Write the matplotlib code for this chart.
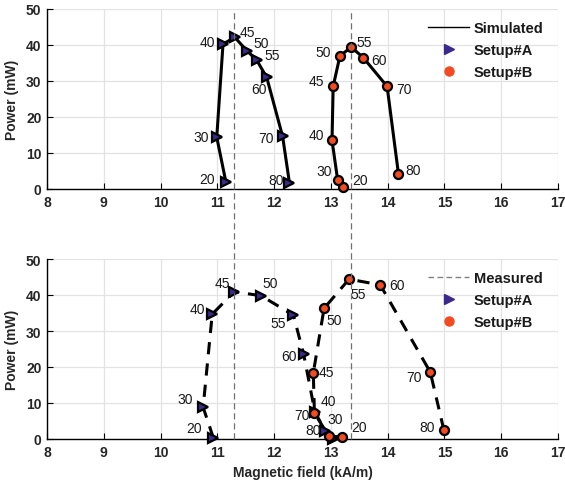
import matplotlib
matplotlib.use("Agg")
import matplotlib.pyplot as plt
from matplotlib.lines import Line2D
from matplotlib.transforms import blended_transform_factory

plt.rcParams['font.family'] = ['Liberation Sans', 'DejaVu Sans']

# ---- Simulated (top panel) ----
sim_a_current = ['20', '30', '40', '45', '50', '55', '60', '70', '80']
sim_a_field = [11.15, 10.99, 11.10, 11.31, 11.52, 11.69, 11.87, 12.15, 12.27]
sim_a_power = [2.0, 14.4, 40.3, 42.1, 38.4, 35.9, 31.0, 14.6, 1.7]

sim_b_current = ['20', '30', '40', '45', '50', '55', '60', '70', '80']
sim_b_field = [13.22, 13.12, 13.02, 13.04, 13.16, 13.36, 13.57, 13.99, 14.19]
sim_b_power = [0.5, 2.4, 13.5, 28.5, 37.0, 39.4, 36.5, 28.5, 4.2]

# ---- Measured (bottom panel) ----
meas_a_current = ['20', '30', '40', '45', '50', '55', '60', '70', '80', '']
meas_a_field = [10.93, 10.75, 10.91, 11.30, 11.77, 12.34, 12.52, 12.72, 12.90, 13.03]
meas_a_power = [0.3, 8.8, 34.7, 40.9, 39.8, 34.4, 23.6, 7.4, 2.3, 0.0]

meas_b_current = ['20', '30', '40', '45', '50', '55', '60', '70', '80']
meas_b_field = [13.19, 12.96, 12.71, 12.69, 12.88, 13.32, 13.87, 14.75, 14.99]
meas_b_power = [0.5, 0.9, 7.2, 18.3, 36.3, 44.4, 42.8, 18.6, 2.5]

# peak positions of the simulated curves
peak_fields = [11.30, 13.35]

# label offsets (pixels) for each point label
off_sim_a = [(-19, 3), (-16, 0), (-16, 2), (12, 5), (14, 8), (16, 5), (-8, -12), (-17, -2), (-13, 3)]
off_sim_b = [(17, 7), (-14, 9), (-16, 5), (-17, 5), (-17, 4), (13, 5), (16, -2), (17, -3), (15, 4)]
off_meas_a = [(-19, 10), (-18, 8), (-15, 5), (-12, 9), (9, 13), (-15, -8), (-15, -2), (-13, -3), (-12, 1), (0, 0)]
off_meas_b = [(17, 10), (7, 17), (14, 12), (13, 1), (10, -12), (9, -15), (17, 0), (-16, -5), (-17, 3)]

COL_A = '#3b2a8c'
COL_B = '#f24b22'
GRID = '#e3e3e3'

fig = plt.figure(figsize=(5.65, 4.85), dpi=100)
ax1 = fig.add_axes([47 / 565, 1 - 190 / 485, 511 / 565, 180 / 485])
ax2 = fig.add_axes([47 / 565, 1 - 440 / 485, 511 / 565, 180 / 485])


def style_axes(ax):
    ax.set_xlim(8, 17)
    ax.set_ylim(0, 50)
    ax.set_xticks(range(8, 18))
    ax.set_yticks(range(0, 51, 10))
    ax.grid(True, color=GRID, linewidth=0.9)
    ax.set_axisbelow(True)
    for s in ['top', 'right']:
        ax.spines[s].set_visible(False)
    for s in ['left', 'bottom']:
        ax.spines[s].set_linewidth(1.0)
    ax.tick_params(direction='in', length=4, width=0.8, labelsize=10, pad=4)
    for lab in ax.get_xticklabels() + ax.get_yticklabels():
        lab.set_fontweight('bold')
        lab.set_color('#262626')
    ax.set_ylabel('Power (mW)', fontsize=10, fontweight='bold', color='#262626', labelpad=5)


def draw_series(ax, xs, ys, labels, offsets, marker, color, ls, ms):
    ax.plot(xs, ys, color='black', linestyle=ls, linewidth=2.2,
            dashes=(4, 3) if ls == '--' else (None, None), zorder=3, clip_on=False)
    ax.plot(xs, ys, linestyle='none', marker=marker, markersize=ms,
            markerfacecolor=color, markeredgecolor='black', markeredgewidth=1.6,
            zorder=4, clip_on=False)
    for x, y, t, (dx, dy) in zip(xs, ys, labels, offsets):
        if t:
            ax.annotate(t, (x, y), xytext=(dx, dy), textcoords='offset pixels',
                        ha='center', va='center', fontsize=10, color='#1a1a1a', zorder=5)


for ax in (ax1, ax2):
    style_axes(ax)

draw_series(ax1, sim_a_field, sim_a_power, sim_a_current, off_sim_a, '>', COL_A, '-', 7)
draw_series(ax1, sim_b_field, sim_b_power, sim_b_current, off_sim_b, 'o', COL_B, '-', 6.5)
draw_series(ax2, meas_a_field, meas_a_power, meas_a_current, off_meas_a, '>', COL_A, '--', 7)
draw_series(ax2, meas_b_field, meas_b_power, meas_b_current, off_meas_b, 'o', COL_B, '--', 6.5)

ax2.set_xlabel('Magnetic field (kA/m)', fontsize=10, fontweight='bold', color='#262626', labelpad=5)

# vertical reference lines spanning both panels
trans = blended_transform_factory(ax2.transData, fig.transFigure)
for xv in peak_fields:
    fig.add_artist(Line2D([xv, xv], [1 - 440 / 485, 1 - 10 / 485], transform=trans,
                          color='#707070', linewidth=0.9, linestyle=(0, (5, 3)), zorder=2))

# legends
h_a = Line2D([], [], linestyle='none', marker='>', markersize=7, markerfacecolor=COL_A, markeredgecolor=COL_A)
h_b = Line2D([], [], linestyle='none', marker='o', markersize=6.5, markerfacecolor=COL_B, markeredgecolor=COL_B)
h_sim = Line2D([], [], color='black', linewidth=1.0)
h_meas = Line2D([], [], color='#808080', linewidth=1.0, linestyle=(0, (4, 2.5)))

for ax, h0, name in ((ax1, h_sim, 'Simulated'), (ax2, h_meas, 'Measured')):
    leg = ax.legend([h0, h_a, h_b], [name, 'Setup#A', 'Setup#B'], loc='upper left',
                    bbox_to_anchor=(0.735, 0.965), frameon=False, handlelength=2.8,
                    handletextpad=0.3, labelspacing=0.55, borderaxespad=0,
                    prop={'weight': 'bold', 'size': 10.5})
    for t in leg.get_texts():
        t.set_color('#1a1a1a')

fig.savefig('out.png', dpi=100)
